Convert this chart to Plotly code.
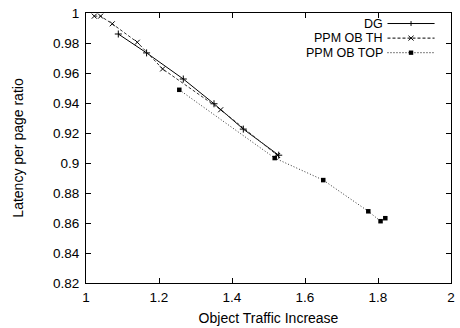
import plotly.graph_objects as go

# Measured curves: object traffic increase vs latency-per-page ratio
dg_x = [1.0885, 1.166, 1.2666, 1.3507, 1.431, 1.528]
dg_y = [0.986, 0.9734, 0.956, 0.9395, 0.9226, 0.9052]

th_x = [1.0227, 1.040, 1.072, 1.1405, 1.210, 1.369, 1.525]
th_y = [0.9979, 0.9979, 0.9928, 0.9805, 0.9627, 0.9355, 0.9050]

top_x = [1.2556, 1.517, 1.650, 1.7734, 1.807, 1.820]
top_y = [0.9488, 0.9033, 0.8886, 0.8678, 0.8612, 0.8632]

series_names = ["DG", "PPM OB TH", "PPM OB TOP"]
x_ticks = [1, 1.2, 1.4, 1.6, 1.8, 2]
y_ticks = [0.82, 0.84, 0.86, 0.88, 0.9, 0.92, 0.94, 0.96, 0.98, 1]

FONT = "Liberation Sans, Arial, sans-serif"

fig = go.Figure()
fig.add_trace(go.Scatter(x=dg_x, y=dg_y, mode="lines+markers", name=series_names[0],
                         line=dict(color="black", width=1),
                         marker=dict(symbol="cross-thin", size=5, color="black",
                                     line=dict(color="black", width=1))))
fig.add_trace(go.Scatter(x=th_x, y=th_y, mode="lines+markers", name=series_names[1],
                         line=dict(color="#333333", width=1, dash="3px,2px"),
                         marker=dict(symbol="x-thin", size=5, color="black",
                                     line=dict(color="black", width=1))))
fig.add_trace(go.Scatter(x=top_x, y=top_y, mode="lines+markers", name=series_names[2],
                         line=dict(color="#333333", width=1, dash="1px,2px"),
                         marker=dict(symbol="square", size=4.5, color="black")))

axis_common = dict(showline=True, linecolor="black", linewidth=1, mirror="ticks",
                   ticks="inside", ticklen=5, tickcolor="black", showgrid=False,
                   zeroline=False, automargin=False,
                   tickfont=dict(family=FONT, size=13.5, color="black"))

fig.update_xaxes(range=[1, 2], tickvals=x_ticks, ticktext=[f"{v:g}" for v in x_ticks],
                 ticklabelstandoff=2,
                 title=dict(text="Object Traffic Increase", standoff=8,
                            font=dict(family=FONT, size=14, color="black")),
                 **axis_common)
fig.update_yaxes(range=[0.82, 1], tickvals=y_ticks, ticktext=[f"{v:g}" for v in y_ticks],
                 ticklabelstandoff=3,
                 title=dict(text="Latency per page ratio", standoff=26,
                            font=dict(family=FONT, size=14, color="black")),
                 **axis_common)

# Key in the top-right corner: label right-aligned, sample line to its right
rows = [
    (series_names[0], "solid", "plus"),
    (series_names[1], "3px,2px", "x"),
    (series_names[2], "1px,2px", "square"),
]
y0 = 0.961
dy = 0.054
x_text = 0.818
x_l0, x_l1 = 0.826, 0.955
x_m = (x_l0 + x_l1) / 2
for i, (label, dash, mk) in enumerate(rows):
    yy = y0 - i * dy
    fig.add_annotation(x=x_text, y=yy, xref="paper", yref="paper", text=label,
                       showarrow=False, xanchor="right", yanchor="middle",
                       font=dict(family=FONT, size=12.5, color="black"))
    fig.add_shape(type="line", xref="paper", yref="paper", x0=x_l0, x1=x_l1, y0=yy, y1=yy,
                  line=dict(color="black", width=1, dash=dash))
    hx, hy = 0.007, 0.009
    if mk == "plus":
        fig.add_shape(type="line", xref="paper", yref="paper", x0=x_m, x1=x_m,
                      y0=yy - hy, y1=yy + hy, line=dict(color="black", width=1))
    elif mk == "x":
        fig.add_shape(type="line", xref="paper", yref="paper", x0=x_m - hx, x1=x_m + hx,
                      y0=yy - hy, y1=yy + hy, line=dict(color="black", width=1))
        fig.add_shape(type="line", xref="paper", yref="paper", x0=x_m - hx, x1=x_m + hx,
                      y0=yy + hy, y1=yy - hy, line=dict(color="black", width=1))
    else:
        fig.add_shape(type="rect", xref="paper", yref="paper", x0=x_m - 0.006, x1=x_m + 0.006,
                      y0=yy - 0.008, y1=yy + 0.008, line=dict(color="black", width=0),
                      fillcolor="black")

fig.update_layout(width=460, height=328, showlegend=False,
                  margin=dict(l=86, r=9, t=13, b=45),
                  plot_bgcolor="white", paper_bgcolor="white",
                  font=dict(family=FONT, size=13, color="black"))

fig.write_html("out.html")
